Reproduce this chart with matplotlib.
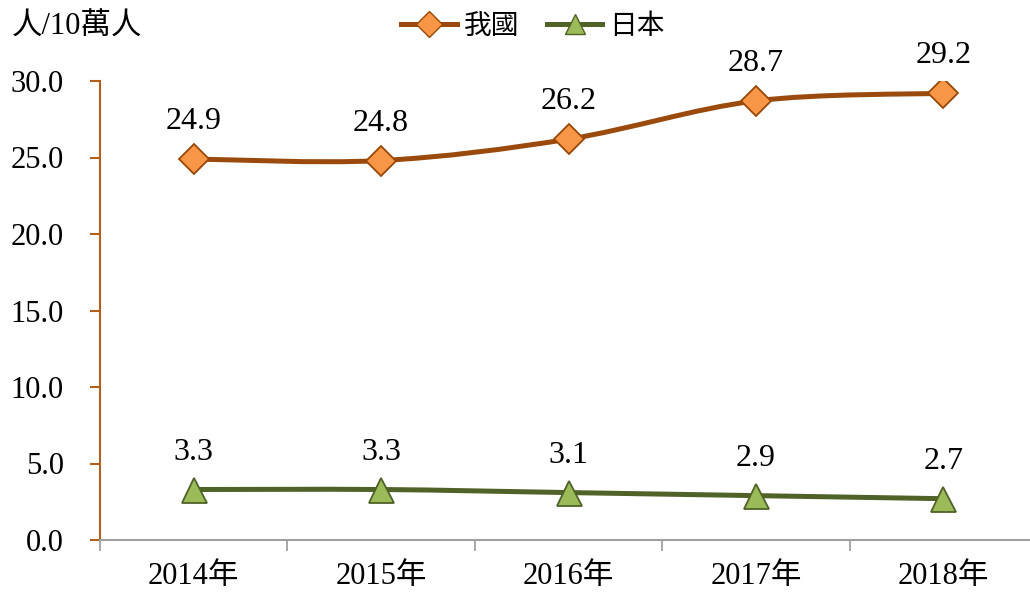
import matplotlib.pyplot as plt
import numpy as np
from matplotlib.path import Path
from matplotlib.patches import PathPatch
from matplotlib.lines import Line2D

years = ['2014年', '2015年', '2016年', '2017年', '2018年']
taiwan = [24.9, 24.8, 26.2, 28.7, 29.2]
japan = [3.3, 3.3, 3.1, 2.9, 2.7]
yticks = [0, 5, 10, 15, 20, 25, 30]

FONT = ['Liberation Serif', 'Noto Sans CJK TC']
plt.rcParams['font.family'] = FONT

tw_line, tw_face, tw_edge = '#9A4A0C', '#F79646', '#984807'
jp_line, jp_face, jp_edge = '#4F6228', '#9BBB59', '#4F6228'


def smooth_path(x, y):
    # excel style smoothed line: catmull-rom turned into cubic beziers
    pts = np.column_stack([x, y]).astype(float)
    ext = np.vstack([pts[0], pts, pts[-1]])
    verts = [pts[0]]
    codes = [Path.MOVETO]
    for i in range(1, len(ext) - 2):
        p0, p1, p2, p3 = ext[i - 1], ext[i], ext[i + 1], ext[i + 2]
        verts += [p1 + (p2 - p0) / 6, p2 - (p3 - p1) / 6, p2]
        codes += [Path.CURVE4] * 3
    return Path(verts, codes)


fig = plt.figure(figsize=(10.3, 5.94), dpi=100)
ax = fig.add_axes([100 / 1030, 1 - 540 / 594, 937 / 1030, 459 / 594])

x = np.arange(len(years))
for vals, lc, fc, ec, mk, ms in [(taiwan, tw_line, tw_face, tw_edge, 'D', 15),
                                 (japan, jp_line, jp_face, jp_edge, '^', 18)]:
    ax.add_patch(PathPatch(smooth_path(x, vals), facecolor='none', edgecolor=lc,
                           lw=3.6, capstyle='round', zorder=2))
    ax.plot(x, vals, ls='none', marker=mk, ms=ms, mfc=fc, mec=ec, mew=1.3, zorder=3)
    for xi, v in zip(x, vals):
        ax.annotate(f'{v:.1f}', (xi, v), xytext=(0, 27), textcoords='offset points',
                    ha='center', va='center', fontsize=23)

ax.set_xlim(-0.5, 4.5)
ax.set_ylim(0, 30)
ax.set_yticks(yticks)
ax.set_yticklabels([f'{t:.1f}' for t in yticks], fontsize=22)
ax.set_xticks(x)
ax.set_xticklabels(years, fontsize=22)
ax.set_xticks(np.arange(-0.5, 4.6, 1), minor=True)
ax.tick_params(axis='x', which='major', length=0, pad=16)
ax.tick_params(axis='x', which='minor', length=8, width=1.3, color='#A0A0A0', direction='out')
ax.tick_params(axis='y', length=7, width=1.5, color='#B45F1A', pad=19)

for s in ['top', 'right']:
    ax.spines[s].set_visible(False)
ax.spines['left'].set_color('#B45F1A')
ax.spines['left'].set_linewidth(1.5)
ax.spines['bottom'].set_color('#A0A0A0')
ax.spines['bottom'].set_linewidth(1.5)

fig.text(12 / 1030, 1 - 27 / 594, '人/10萬人', fontsize=22, va='center', ha='left')

handles = [Line2D([], [], color=tw_line, lw=3.6, marker='D', ms=13, mfc=tw_face, mec=tw_edge),
           Line2D([], [], color=jp_line, lw=3.6, marker='^', ms=15, mfc=jp_face, mec=jp_edge)]
fig.legend(handles, ['我國', '日本'], loc='center', bbox_to_anchor=(533 / 1030, 1 - 27 / 594),
           ncol=2, frameon=False, fontsize=20, handlelength=2.0, handletextpad=0.25,
           columnspacing=1.0)

fig.savefig('out.png', dpi=100)
